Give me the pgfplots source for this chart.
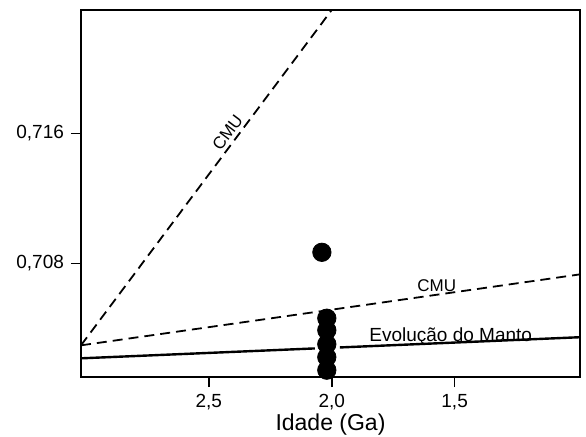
\documentclass[border=0pt]{standalone}
\usepackage{fontspec}
\setmainfont{Liberation Sans}
\usepackage{pgfplots}
\pgfplotsset{compat=1.18}
\begin{document}
\begin{tikzpicture}
\useasboundingbox (-40.5pt,-29.5pt) rectangle (252.5pt,188.5pt);
\begin{axis}[
  at={(0,0)}, anchor=south west,
  scale only axis, width=249.5pt, height=183.5pt,
  x dir=reverse, xmin=0.99, xmax=3.02, ymin=0.701, ymax=0.7236,
  xtick={1.5,2,2.5}, xticklabels={{1,5},{2,0},{2,5}},
  ytick={0.708,0.716}, yticklabels={{0,708},{0,716}},
  minor tick num=0,
  tick align=outside, major tick length=5pt,
  xtick pos=lower, ytick pos=left,
  axis line style={line width=1pt},
  every tick/.style={line width=0.8pt, black},
  tick label style={font=\fontsize{9.5}{11}\selectfont},
  xlabel={Idade (Ga)},
  xlabel style={at={(axis description cs:0.5,0)}, anchor=center, yshift=-24pt, font=\fontsize{11.5}{13}\selectfont},
]
% Evolucao do Manto (solid, broken around the dots)
\addplot[black, line width=1.2pt] coordinates {(3.02,0.70215) (2.069,0.70276)};
\addplot[black, line width=1.2pt] coordinates {(1.967,0.70282) (0.99,0.70345)};
% CMU lines (dashed)
\addplot[black, line width=0.9pt, dash pattern=on 5pt off 3pt] coordinates {(3.02,0.70295) (0.99,0.70732)};
\addplot[black, line width=0.9pt, dash pattern=on 5pt off 3pt] coordinates {(3.02,0.70295) (2.0,0.7236)};
% samples
\addplot[only marks, mark=*, mark size=4.6pt, black] coordinates {
  (2.04,0.70868) (2.02,0.70462) (2.02,0.70388) (2.02,0.70302) (2.02,0.70222) (2.02,0.70142)};
\node[rotate=53, anchor=south, inner sep=2pt, font=\fontsize{8.5}{10}\selectfont] at (axis cs:2.39,0.71569) {CMU};
\node[anchor=south, inner sep=1.5pt, font=\fontsize{8.5}{10}\selectfont] at (axis cs:1.573,0.70607) {CMU};
\node[font=\fontsize{9.5}{11}\selectfont] at (axis cs:1.516,0.70351) {Evolução do Manto};
\end{axis}
\end{tikzpicture}
\end{document}
